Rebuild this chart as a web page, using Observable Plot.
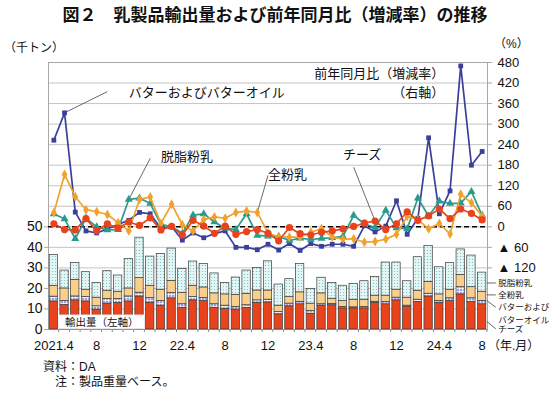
<!DOCTYPE html>
<html><head><meta charset="utf-8">
<script src="https://cdn.jsdelivr.net/npm/d3@7"></script>
<script src="https://cdn.jsdelivr.net/npm/@observablehq/plot@0.6"></script>
<style>
body{margin:0;background:#fff;}
#wrap{position:relative;width:550px;height:394px;overflow:hidden;font-family:"Liberation Sans","Noto Sans CJK JP",sans-serif;color:#111;}
#wrap svg{position:absolute;left:0;top:0;}
.t{position:absolute;white-space:nowrap;line-height:1;}
</style></head><body>
<div id="wrap">
  <div class="t" style="top:5px;left:0;width:550px;text-align:center;font-size:17px;font-weight:bold;font-family:'Noto Sans CJK JP';">図２　乳製品輸出量および前年同月比（増減率）の推移</div>
  <div class="t" style="top:42px;left:4px;font-size:12px;">（千トン）</div>
  <div class="t" style="top:38px;left:494px;font-size:12px;">（%）</div>
  <div class="t" style="top:340px;left:488px;font-size:12px;">（年.月）</div>
  <div class="t" style="top:361px;left:43px;font-size:12px;">資料：DA</div>
  <div class="t" style="top:376px;left:55px;font-size:12px;">注：製品重量ベース。</div>
</div>
<script>
// ---- categories ----
const months = ["2021.4","2021.5","2021.6","2021.7","2021.8","2021.9","2021.10","2021.11","2021.12",
"2022.1","2022.2","2022.3","2022.4","2022.5","2022.6","2022.7","2022.8","2022.9","2022.10","2022.11","2022.12",
"2023.1","2023.2","2023.3","2023.4","2023.5","2023.6","2023.7","2023.8","2023.9","2023.10","2023.11","2023.12",
"2024.1","2024.2","2024.3","2024.4","2024.5","2024.6","2024.7","2024.8"];
const xTicks = ["2021.4","2021.8","2021.12","2022.4","2022.8","2022.12","2023.4","2023.8","2023.12","2024.4","2024.8"];
const xTickLabels = ["2021.4","8","12","22.4","8","12","23.4","8","12","24.4","8"];
const leftTicks = [0,10,20,30,40,50];
const rightTicks = [-120,-60,0,60,120,180,240,300,360,420,480];

// ---- export volume (thousand tonnes), stacked bars ----
const barSeries = ["チーズ","バターおよびバターオイル","全粉乳","脱脂粉乳"];
const cheeseQty = [13.7,11.9,14.2,13.7,9.7,12.6,12.9,13.7,16.1,13.1,11.6,15.2,10.6,14.2,13.9,10.6,10.0,9.7,10.5,12.9,13.2,7.4,11.3,12.3,7.7,11.6,11.8,10.3,10.3,10.3,12.9,12.3,14.2,11.0,13.4,16.1,12.9,13.9,17.1,13.5,12.3];
const butterQty = [2.3,2.0,1.9,2.1,1.6,2.2,1.9,2.4,1.8,2.2,2.3,2.5,1.7,1.6,1.4,1.7,1.6,1.3,1.3,1.3,1.3,1.1,1.3,1.2,1.3,0.7,0.6,0.7,0.5,0.7,0.6,1.1,1.3,0.6,1.1,1.3,1.0,1.3,3.5,1.7,1.6];
const wmpQty = [5.3,6.1,8.1,3.6,4.2,4.1,3.6,3.9,7.1,6.0,5.5,6.0,5.6,5.5,5.2,5.3,5.5,5.9,5.6,4.8,4.5,3.1,3.2,4.6,3.6,5.3,2.6,2.9,3.7,3.5,3.0,3.1,3.9,3.9,4.4,5.8,3.2,4.2,6.0,5.4,4.5];
const smpQty = [15.0,8.7,8.2,8.5,7.1,9.5,7.9,14.4,19.7,14.2,17.4,15.7,11.6,11.8,11.4,9.7,5.6,8.4,11.3,11.0,14.2,10.3,8.7,13.8,7.1,7.6,7.7,7.4,7.6,9.0,9.1,16.1,13.2,8.0,16.3,17.4,13.2,12.9,12.4,15.4,9.3];

// ---- year-on-year change (%), right axis ----
const butterYoY = [253,333,43,-12,-18,-6,7,19,42,38,-5,1,-39,-18,-32,-20,-12,-60,-60,-67,-51,-68,-49,-69,-49,-57,-51,-51,-57,3,-15,2,76,-22,25,260,38,105,470,180,220];
const smpYoY = [38,23,-35,25,0,-9,-8,80,84,68,7,0,-19,34,38,14,-4,-8,38,-25,-27,-28,-40,-33,-37,-34,-32,-28,33,9,-2,48,-3,-6,84,31,75,68,69,103,33];
const wmpYoY = [41,153,88,50,44,36,12,-12,80,87,10,66,6,-12,21,29,25,42,46,42,-18,-30,-30,-30,-16,-5,-30,-36,-35,-45,-43,-36,-22,31,21,-6,10,-21,95,70,31];
const cheeseYoY = [9,-8,-9,24,-12,9,-4,14,4,26,-9,1,-24,19,2,-19,2,-22,-14,-8,-19,-41,-2,-20,-24,-16,-12,-6,1,11,17,-8,9,44,19,32,52,24,52,39,20];

// ---- annotations (month + right-axis %) ----
const annStart = [
  {text:"バターおよびバターオイル", month:"2021.11", yoy:390},
  {text:"脱脂粉乳", month:"2022.2", yoy:203},
  {text:"全粉乳", month:"2022.12", yoy:151},
  {text:"チーズ", month:"2023.7", yoy:209}
];
const annEnd = [
  {text:"前年同月比（増減率）", month:"2024.4", yoy:446},
  {text:"（右軸）", month:"2024.4", yoy:391}
];
const leaders = [
  {m1:"2021.5", v1:333, m2:"2021.9", v2:395},
  {m1:"2021.11", v1:80, m2:"2022.1", v2:200},
  {m1:"2022.11", v1:42, m2:"2022.12", v2:150},
  {m1:"2023.10", v1:17, m2:"2023.8", v2:174}
];
// right-side bar legend (left-axis units)
const legendLabels = ["脱脂粉乳","全粉乳","バターおよび","バターオイル","チーズ"];
const legendY = [22.4,16.6,10.6,4.7,0.1];
const legendLeadFrom = [22.4,16.6,13.8,3.6];
const legendLeadTo = [22.4,16.6,10.6,0.1];
const volumeLabel = "輸出量（左軸）";

// ---- helpers ----
const toL = v => 50 + v / 6;                 // right-axis % -> left-axis units
const fromL = d => Math.round((d - 50) * 6);
const fmtR = v => v < 0 ? "▲ " + (-v) : String(v);
const gridL = leftTicks.concat(rightTicks.map(toL).filter(d => d > 50));

const barValues = [cheeseQty, butterQty, wmpQty, smpQty];
const barRows = months.flatMap((m, i) => barSeries.map((s, j) => ({month: m, series: s, value: barValues[j][i]})));

const lineDefs = [
  {vals: butterYoY, color: "#3b3f9b", symbol: "square", r: 2.7},
  {vals: smpYoY, color: "#2a9a8c", symbol: "triangle", r: 3.0},
  {vals: wmpYoY, color: "#f2a22c", symbol: "diamond", r: 3.0},
  {vals: cheeseYoY, color: "#e8431c", symbol: "circle", r: 3.6}
];
const lineMarks = lineDefs.flatMap(L => {
  const rows = months.map((m, i) => ({month: m, v: L.vals[i]}));
  return [
    Plot.line(rows, {x: "month", y: d => toL(d.v), stroke: L.color, strokeWidth: 1.7}),
    Plot.dot(rows, {x: "month", y: d => toL(d.v), symbol: L.symbol, r: L.r, fill: L.color, stroke: "none"})
  ];
});

const FONT = "Liberation Sans, Noto Sans CJK JP, sans-serif";
const plot = Plot.plot({
  width: 550, height: 394,
  marginTop: 62, marginBottom: 65, marginLeft: 48, marginRight: 63,
  style: {fontFamily: FONT, background: "transparent", color: "#111", overflow: "visible"},
  x: {type: "band", domain: months, paddingInner: 0.22, paddingOuter: 0.11, round: false, label: null},
  y: {domain: [0, 130], label: null},
  color: {domain: barSeries, range: ["#e8431c", "url(#pBut)", "#f9cf8c", "url(#pSmp)"]},
  marks: [
    Plot.ruleY(gridL, {stroke: "#c4c4c4", strokeWidth: 1}),
    Plot.frame({stroke: "#a8a8a8"}),
    Plot.axisY(leftTicks, {anchor: "left", label: null, tickSize: 4, tickPadding: 2, fontSize: 14, stroke: "#a8a8a8", fill: "#111"}),
    Plot.axisY(rightTicks.map(toL), {anchor: "right", label: null, tickSize: 4, tickPadding: 6, fontSize: 13, stroke: "#a8a8a8", fill: "#111", tickFormat: d => fmtR(fromL(d))}),
    Plot.axisX(xTicks, {label: null, tickSize: 0, tickPadding: 11, fontSize: 13, fill: "#111", tickFormat: d => xTickLabels[xTicks.indexOf(d)]}),
    Plot.barY(barRows, {x: "month", y: "value", fill: "series", stroke: "#3a3a3a", strokeWidth: 0.7, order: barSeries}),
    Plot.ruleY([toL(0)], {stroke: "#000", strokeWidth: 1.6, strokeDasharray: "5,3"}),
    Plot.link(leaders, {x1: "m1", y1: d => toL(d.v1), x2: "m2", y2: d => toL(d.v2), stroke: "#444", strokeWidth: 0.8}),
    ...lineMarks,
    Plot.text(annStart, {x: "month", y: d => toL(d.yoy), text: "text", textAnchor: "start", fontSize: 13, fill: "#111"}),
    Plot.text(annEnd, {x: "month", y: d => toL(d.yoy), text: "text", textAnchor: "end", dx: 5, fontSize: 13, fill: "#111"}),
    Plot.text(legendLabels, {x: () => months[months.length - 1], y: (d, i) => legendY[i], text: d => d, textAnchor: "start", dx: 16, fontSize: 8.5, fill: "#111"}),
    Plot.text([volumeLabel], {x: () => "2021.8", y: () => 3.4, text: d => d, dx: 5, fontSize: 10.5, fill: "#111"})
  ]
});

// pattern fills
plot.insertAdjacentHTML("afterbegin",
  '<defs>' +
  '<pattern id="pSmp" width="3" height="3" patternUnits="userSpaceOnUse"><rect width="3" height="3" fill="#e3f5f5"/><circle cx="1.5" cy="1.5" r="0.6" fill="#6cc0c0"/></pattern>' +
  '<pattern id="pBut" width="3" height="3" patternUnits="userSpaceOnUse"><rect width="3" height="3" fill="#9aa2e4"/><path d="M0 0.4H3M0.4 0V3" stroke="#fff" stroke-width="0.8"/></pattern>' +
  '</defs>');

document.getElementById("wrap").appendChild(plot);

// decorations that need scale geometry
const xs = plot.scale("x"), ys = plot.scale("y");
const g = d3.select(plot).append("g");
// month boundary ticks
months.forEach(m => {
  const x = xs.apply(m) + xs.bandwidth + (xs.step - xs.bandwidth) / 2;
  g.append("line").attr("x1", x).attr("x2", x).attr("y1", ys.apply(0)).attr("y2", ys.apply(0) + 3).attr("stroke", "#888");
});
// right legend leaders
const lastM = months[months.length - 1];
const xl = xs.apply(lastM) + xs.bandwidth;
legendLeadFrom.forEach((y1, i) => {
  g.append("line").attr("x1", xl + 1).attr("x2", xl + 10)
    .attr("y1", ys.apply(y1)).attr("y2", ys.apply(legendLeadTo[i])).attr("stroke", "#444").attr("stroke-width", 0.8);
});
// white box behind the volume label
const lab = Array.from(plot.querySelectorAll("text")).find(t => t.textContent === volumeLabel);
if (lab) {
  const bb = lab.getBBox();
  d3.select(lab.parentNode).insert("rect", ":first-child")
    .attr("transform", lab.getAttribute("transform"))
    .attr("x", bb.x - 6).attr("y", bb.y - 1).attr("width", bb.width + 12).attr("height", bb.height + 2)
    .attr("fill", "#fff").attr("stroke", "#ddd").attr("stroke-width", 0.6);
}
</script>
</body></html>
